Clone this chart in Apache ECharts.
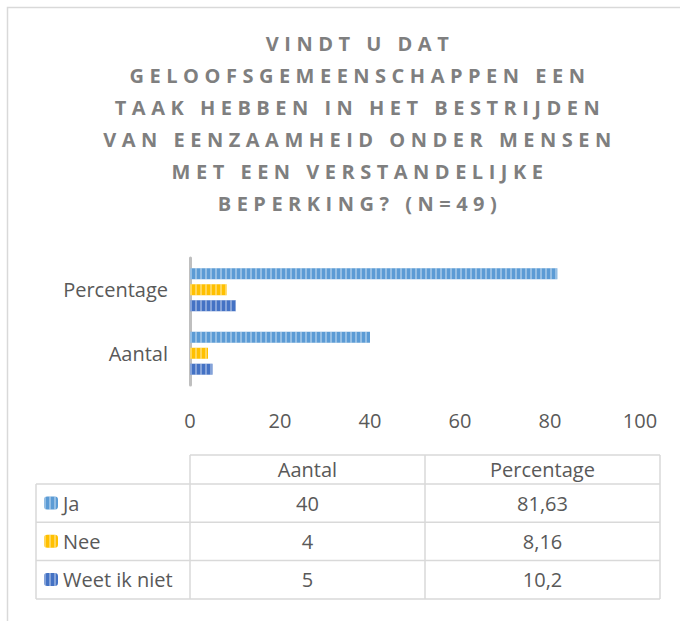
<!DOCTYPE html>
<html>
<head>
<meta charset="utf-8">
<title>Geloofsgemeenschappen en eenzaamheid</title>
<script src="https://cdn.jsdelivr.net/npm/echarts@6/dist/echarts.min.js"></script>
<style>
  html, body { margin: 0; padding: 0; background: #fff; }
  #main { width: 680px; height: 621px; }
  /* titel met letterafstand */
  #main svg text[fill="#7f7f7f"] { letter-spacing: 5.5px; }
</style>
</head>
<body>
<div id="main"></div>
<script>
// data
const categories = ['Aantal', 'Percentage']
const seriesNames = ['Ja', 'Nee', 'Weet ik niet']
const aantal = [40, 4, 5]
const percentage = [81.63, 8.16, 10.2]
const xTicks = [0, 20, 40, 60, 80, 100]

// kleuren
const colors = ['#5b9bd5', '#ffc000', '#4472c4']
const lineColor = '#d9d9d9'
const textColor = '#595959'
const fontFamily = 'Open Sans'
const fontSize = 20

// tabel opmaak
const table = {
  left: 36,
  col1: 190,
  col2: 425,
  right: 660,
  top: 455,
  headerBottom: 484,
  rowH: 38.3
}

const myChart = echarts.init(document.getElementById('main'), null, { renderer: 'svg' })

// streepjespatroon op de balken
const stripes = {
  symbol: 'rect',
  symbolSize: 1,
  dashArrayX: [2, 3],
  dashArrayY: [1, 0],
  rotation: 0,
  color: 'rgba(255,255,255,0.35)'
}

// Percentage boven, Aantal onder (as is omgedraaid)
const yCategories = categories.slice().reverse()
const valuesOf = i => ({ Aantal: aantal[i], Percentage: percentage[i] })

const series = seriesNames.map((name, i) => ({
  name: name,
  type: 'bar',
  barWidth: 11,
  barGap: '45%',
  itemStyle: { color: colors[i], decal: stripes },
  data: yCategories.map(c => valuesOf(i)[c])
}))

// tabel tekenen met graphic
const fmt = v => String(v).replace('.', ',')
const graphics = []
const line = (x1, y1, x2, y2) => graphics.push({
  type: 'line',
  silent: true,
  shape: { x1: x1, y1: y1, x2: x2, y2: y2 },
  style: { stroke: lineColor, lineWidth: 1.5 }
})
const cellText = (text, x, y) => graphics.push({
  type: 'text',
  silent: true,
  x: x,
  y: y,
  style: {
    text: text,
    fill: textColor,
    font: fontSize + 'px "' + fontFamily + '"',
    align: 'center',
    verticalAlign: 'middle'
  }
})

// rand om de hele grafiek
graphics.push({
  type: 'rect',
  silent: true,
  shape: { x: 7.5, y: 7.5, width: 720, height: 720 },
  style: { fill: 'none', stroke: lineColor, lineWidth: 1.5 }
})

const tableBottom = table.headerBottom + table.rowH * seriesNames.length
line(table.col1, table.top, table.right, table.top)
for (let r = 0; r <= seriesNames.length; r++) {
  const y = table.headerBottom + table.rowH * r
  line(table.left, y, table.right, y)
}
line(table.left, table.headerBottom, table.left, tableBottom)
line(table.col1, table.top, table.col1, tableBottom)
line(table.col2, table.top, table.col2, tableBottom)
line(table.right, table.top, table.right, tableBottom)

const colX = [(table.col1 + table.col2) / 2, (table.col2 + table.right) / 2]
const headerY = (table.top + table.headerBottom) / 2
categories.forEach((c, j) => cellText(c, colX[j], headerY))
seriesNames.forEach((name, i) => {
  const y = table.headerBottom + table.rowH * (i + 0.5)
  cellText(fmt(aantal[i]), colX[0], y)
  cellText(fmt(percentage[i]), colX[1], y)
})

const option = {
  animation: false,
  backgroundColor: '#fff',
  title: {
    text: 'VINDT U DAT\nGELOOFSGEMEENSCHAPPEN EEN\nTAAK HEBBEN IN HET BESTRIJDEN\nVAN EENZAAMHEID ONDER MENSEN\nMET EEN VERSTANDELIJKE\nBEPERKING? (N=49)',
    left: 355,
    top: 22,
    textAlign: 'center',
    textStyle: {
      color: '#7f7f7f',
      fontFamily: fontFamily,
      fontWeight: 'bold',
      fontSize: 20,
      lineHeight: 32
    }
  },
  legend: {
    orient: 'vertical',
    left: 44,
    top: table.headerBottom + 2.5,
    padding: 0,
    itemWidth: 14,
    itemHeight: 13,
    itemGap: 5.3,
    selectedMode: false,
    data: seriesNames,
    textStyle: {
      color: textColor,
      fontFamily: fontFamily,
      fontSize: fontSize,
      lineHeight: 27,
      verticalAlign: 'middle',
      padding: [0, 0, 6, 0]
    }
  },
  grid: {
    left: 190,
    right: 40,
    top: 258,
    height: 127
  },
  xAxis: {
    type: 'value',
    min: xTicks[0],
    max: xTicks[xTicks.length - 1],
    interval: xTicks[1] - xTicks[0],
    axisLine: { show: false },
    axisTick: { show: false },
    splitLine: { show: false },
    axisLabel: { color: textColor, fontFamily: fontFamily, fontSize: fontSize, margin: 25 }
  },
  yAxis: {
    type: 'category',
    inverse: true,
    data: yCategories,
    axisTick: { show: false },
    axisLine: { lineStyle: { color: '#bfbfbf', width: 3 } },
    axisLabel: { color: textColor, fontFamily: fontFamily, fontSize: fontSize, margin: 22 }
  },
  graphic: graphics,
  series: series
}

myChart.setOption(option)
</script>
</body>
</html>
